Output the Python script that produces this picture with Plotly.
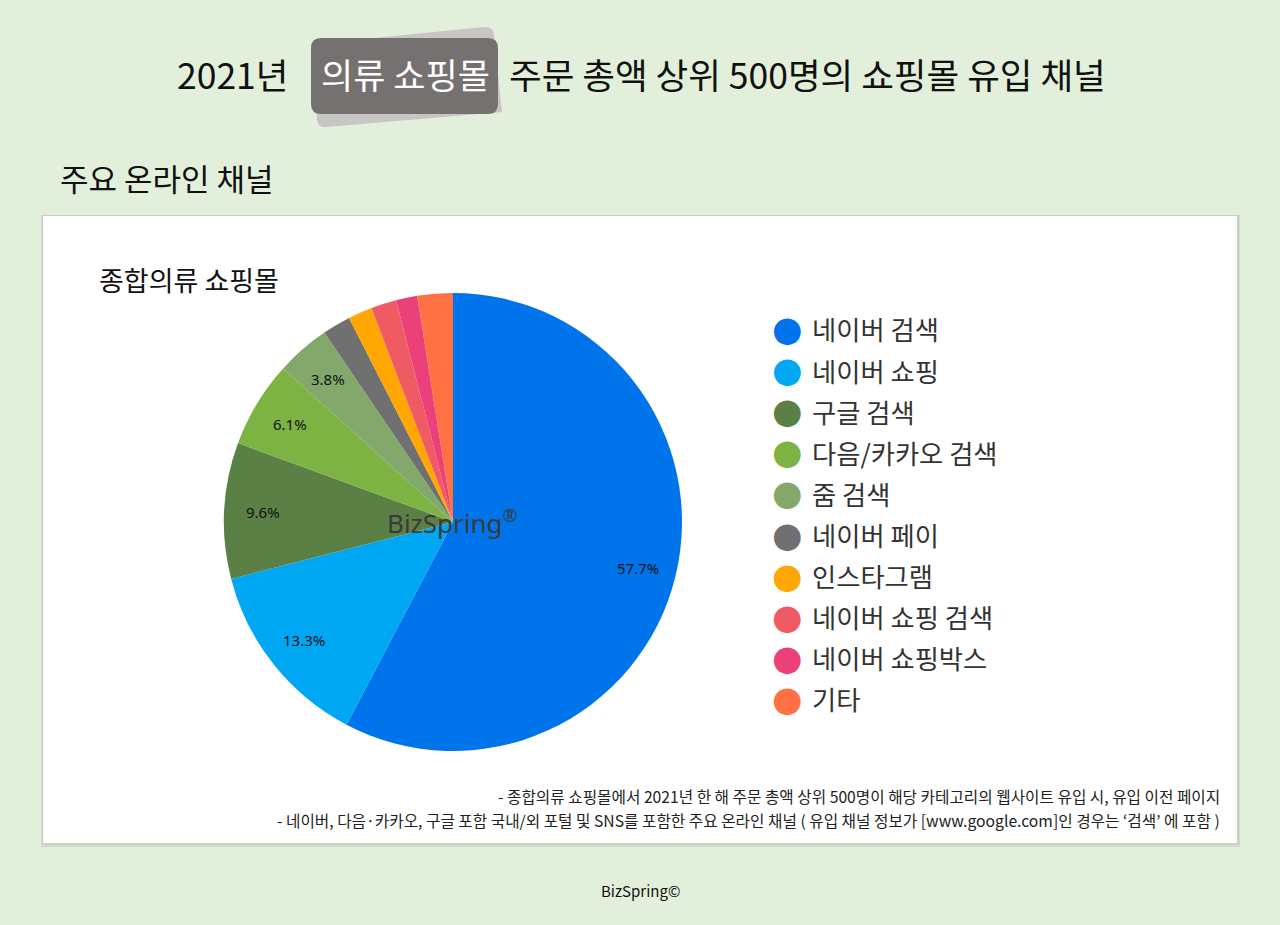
import math
import plotly.graph_objects as go

# ------------------------------------------------------------
# 2021 의류 쇼핑몰 - 주요 온라인 유입 채널
# ------------------------------------------------------------

W, H = 1280, 925

channels = ["네이버 검색", "네이버 쇼핑", "구글 검색", "다음/카카오 검색", "줌 검색",
            "네이버 페이", "인스타그램", "네이버 쇼핑 검색", "네이버 쇼핑박스", "기타"]
shares = [57.7, 13.3, 9.6, 6.1, 3.8, 2.0, 1.7, 1.8, 1.5, 2.5]
colors = ["#0074EB", "#00A8F3", "#5B8045", "#7CB342", "#82A96B",
          "#707070", "#FFA700", "#EF5B62", "#EC407A", "#FF7043"]

notes = [
    "- 종합의류 쇼핑몰에서 2021년 한 해 주문 총액 상위 500명이 해당 카테고리의 웹사이트 유입 시, 유입 이전 페이지",
    "- 네이버, 다음·카카오, 구글 포함 국내/외 포털 및 SNS를 포함한 주요 온라인 채널 ( 유입 채널 정보가 [www.google.com]인 경우는 ‘검색’ 에 포함 )",
]

KR = "Noto Sans CJK KR"

# pie geometry (pixels)
CX, CY, R = 453, 522, 229


def px(x):
    return x / W


def py(y):
    return 1 - y / H


def rounded_rect(x0, y0, x1, y1, r):
    return (f"M {px(x0 + r)},{py(y0)} L {px(x1 - r)},{py(y0)} Q {px(x1)},{py(y0)} {px(x1)},{py(y0 + r)} "
            f"L {px(x1)},{py(y1 - r)} Q {px(x1)},{py(y1)} {px(x1 - r)},{py(y1)} "
            f"L {px(x0 + r)},{py(y1)} Q {px(x0)},{py(y1)} {px(x0)},{py(y1 - r)} "
            f"L {px(x0)},{py(y0 + r)} Q {px(x0)},{py(y0)} {px(x0 + r)},{py(y0)} Z")


fig = go.Figure(go.Pie(
    labels=channels,
    values=shares,
    sort=False,
    direction="clockwise",
    rotation=0,
    marker=dict(colors=colors, line=dict(width=0)),
    textinfo="none",
    hoverinfo="skip",
    showlegend=False,
    domain=dict(x=[px(CX - R), px(CX + R)], y=[py(CY + R), py(CY - R)]),
))

shapes = [
    # card shadow + card
    dict(type="rect", xref="paper", yref="paper", x0=px(41), x1=px(1240), y0=py(847), y1=py(215),
         fillcolor="#D3DBCE", line=dict(width=0), layer="below"),
    dict(type="rect", xref="paper", yref="paper", x0=px(42), x1=px(1239), y0=py(845), y1=py(215),
         fillcolor="#C9D1C4", line=dict(width=0), layer="below"),
    dict(type="rect", xref="paper", yref="paper", x0=px(43), x1=px(1237), y0=py(843), y1=py(216),
         fillcolor="white", line=dict(width=0), layer="below"),
    # tilted back card behind title highlight
    dict(type="path", xref="paper", yref="paper",
         path=f"M {px(314)},{py(44)} L {px(484)},{py(27)} Q {px(493)},{py(26)} {px(494)},{py(35)} "
              f"L {px(502)},{py(112)} L {px(326)},{py(127)} Q {px(318)},{py(128)} {px(317)},{py(120)} Z",
         fillcolor="#C8C5C5", line=dict(width=0), layer="below"),
    # title highlight box
    dict(type="path", xref="paper", yref="paper", path=rounded_rect(311, 38, 498, 114, 10),
         fillcolor="#767171", line=dict(width=0), layer="below"),
]

annotations = [
    dict(text="2021년", x=px(175), y=py(74), xanchor="left", yanchor="middle",
         font=dict(family=KR, size=35.5, color="#111111")),
    dict(text="의류 쇼핑몰", x=px(405), y=py(74), xanchor="center", yanchor="middle",
         font=dict(family=KR, size=35, color="white")),
    dict(text="주문 총액 상위 500명의 쇼핑몰 유입 채널", x=px(507), y=py(74), xanchor="left", yanchor="middle",
         font=dict(family=KR, size=35.5, color="#111111")),
    dict(text="주요 온라인 채널", x=px(58), y=py(177), xanchor="left", yanchor="middle",
         font=dict(family=KR, size=31, color="#111111")),
    dict(text="종합의류 쇼핑몰", x=px(97), y=py(279), xanchor="left", yanchor="middle",
         font=dict(family=KR, size=27, color="#111111")),
    dict(text="BizSpring<sup>®</sup>", x=px(452), y=py(522), xanchor="center", yanchor="middle",
         font=dict(family="Noto Sans", size=26, color="#3A3A3A")),
    dict(text="BizSpring©", x=px(640), y=py(890), xanchor="center", yanchor="middle",
         font=dict(family=KR, size=15, color="#111111")),
]

# percent labels at 0.83R along each slice's mid angle (only slices >= 3%)
total = sum(shares)
cum = 0.0
for v in shares:
    mid = (cum + v / 2) / total * 2 * math.pi
    cum += v
    if v < 3:
        continue
    lx = CX + 0.83 * R * math.sin(mid)
    ly = CY - 0.83 * R * math.cos(mid)
    annotations.append(dict(text=f"{v / total * 100:.1f}%", x=px(lx), y=py(ly),
                            xanchor="center", yanchor="middle",
                            font=dict(family="Noto Sans", size=15, color="#111111")))

for i, note in enumerate(notes):
    annotations.append(dict(text=note, x=px(1222), y=py(796 + 24 * i), xanchor="right", yanchor="middle",
                            font=dict(family=KR, size=15.7, color="#222222")))

# legend with round markers
for i, (name, c) in enumerate(zip(channels, colors)):
    yy = 329 + 41.1 * i
    annotations.append(dict(text="●", x=px(787), y=py(yy), xanchor="center", yanchor="middle",
                            font=dict(family="DejaVu Sans", size=35, color=c)))
    annotations.append(dict(text=name, x=px(810), y=py(yy), xanchor="left", yanchor="middle",
                            font=dict(family=KR, size=26.3, color="#333333")))

for a in annotations:
    a.update(xref="paper", yref="paper", showarrow=False)

fig.update_layout(
    width=W, height=H,
    margin=dict(l=0, r=0, t=0, b=0),
    paper_bgcolor="#E2EFDA",
    plot_bgcolor="#E2EFDA",
    shapes=shapes,
    annotations=annotations,
)

fig.write_html("out.html", config={"displayModeBar": False},
               post_script="document.body.style.margin='0';document.body.style.overflow='hidden';")
